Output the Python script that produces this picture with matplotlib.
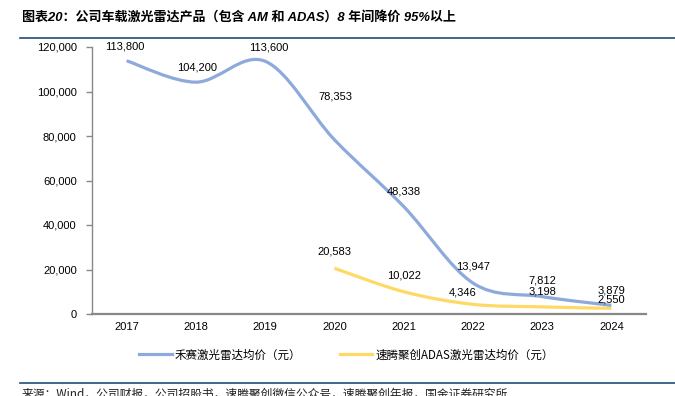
import matplotlib
matplotlib.use("Agg")
import matplotlib.pyplot as plt
from matplotlib.path import Path
from matplotlib.patches import PathPatch
from matplotlib.lines import Line2D
import numpy as np

plt.rcParams['font.family'] = ['Liberation Sans', 'Noto Sans CJK SC', 'DejaVu Sans']

# ---- data ----
years = ['2017', '2018', '2019', '2020', '2021', '2022', '2023', '2024']
hesai = [113800, 104200, 113600, 78353, 48338, 13947, 7812, 3879]
robosense_years = ['2020', '2021', '2022', '2023', '2024']
robosense = [20583, 10022, 4346, 3198, 2550]
series_names = ['禾赛激光雷达均价（元）', '速腾聚创ADAS激光雷达均价（元）']
yticks = [0, 20000, 40000, 60000, 80000, 100000, 120000]
title = '图表20：公司车载激光雷达产品（包含 AM 和 ADAS）8 年间降价 95%以上'
source = '来源：Wind，公司财报，公司招股书，速腾聚创微信公众号，速腾聚创年报，国金证券研究所'

# ---- styles ----
blue = '#8EA9DB'
yellow = '#FFD966'
dark = '#1F4E79'
# label offsets in pixels (dx, dy above point)
hesai_off = [(-2, 14), (1, 15), (4, 14), (1, 43), (0, 15), (0, 16), (0, 16), (0, 15)]
robo_off = [(0, 17), (0, 16), (-10, 12), (0, 15), (0, 9)]

W, H = 675, 396
fig = plt.figure(figsize=(W / 100, H / 100), dpi=100)
ax = fig.add_axes([92 / W, 1 - 314 / H, (646 - 92) / W, (314 - 47) / H])


def smooth_path(xs, ys):
    xs = np.asarray(xs, float)
    ys = np.asarray(ys, float)
    pts = np.column_stack([xs, ys])
    n = len(pts)
    verts = [pts[0]]
    codes = [Path.MOVETO]
    for i in range(n - 1):
        p0 = pts[i - 1] if i > 0 else pts[i]
        p1 = pts[i]
        p2 = pts[i + 1]
        p3 = pts[i + 2] if i + 2 < n else pts[i + 1]
        c1 = p1 + (p2 - p0) / 6.0
        c2 = p2 - (p3 - p1) / 6.0
        verts += [c1, c2, p2]
        codes += [Path.CURVE4] * 3
    return Path(verts, codes)


xh = [years.index(y) for y in years]
xr = [years.index(y) for y in robosense_years]

ax.add_patch(PathPatch(smooth_path(xh, hesai), fill=False, edgecolor=blue, lw=2.3,
                       capstyle='butt', zorder=3))
ax.add_patch(PathPatch(smooth_path(xr, robosense), fill=False, edgecolor=yellow, lw=2.3,
                       capstyle='butt', zorder=2))

for x, v, (dx, dy) in zip(xh, hesai, hesai_off):
    ax.annotate(f'{v:,}', (x, v), xytext=(dx * 0.72, dy * 0.72), textcoords='offset points',
                ha='center', va='center', fontsize=8, color='#000000', zorder=5)
for x, v, (dx, dy) in zip(xr, robosense, robo_off):
    ax.annotate(f'{v:,}', (x, v), xytext=(dx * 0.72, dy * 0.72), textcoords='offset points',
                ha='center', va='center', fontsize=8, color='#000000', zorder=5)

ax.set_xlim(-0.5, len(years) - 0.5)
ax.set_ylim(0, 120000)
ax.set_xticks(range(len(years)))
ax.set_xticklabels(years)
ax.set_yticks(yticks)
ax.set_yticklabels([f'{t:,}' for t in yticks])
ax.tick_params(axis='x', length=0, pad=6, labelsize=8)
ax.tick_params(axis='y', length=4, width=1, color='#888888', pad=7, labelsize=8)
for s in ['top', 'right']:
    ax.spines[s].set_visible(False)
ax.spines['left'].set_color('#888888')
ax.spines['bottom'].set_color('#888888')
ax.spines['left'].set_linewidth(1.0)
ax.spines['bottom'].set_linewidth(1.6)

handles = [Line2D([], [], color=blue, lw=2.3), Line2D([], [], color=yellow, lw=2.3)]
fig.legend(handles, series_names, loc='center', bbox_to_anchor=(346.5 / W, 1 - 355 / H),
           ncol=2, frameon=False, handlelength=2.8, handletextpad=0.3, columnspacing=3.3,
           prop={'family': ['Noto Sans CJK SC', 'DejaVu Sans'], 'size': 8.3})

fig.text(22 / W, 1 - 18 / H, title, ha='left', va='center', fontsize=9.4, fontweight='bold',
         style='italic', color='#000000')
fig.add_artist(Line2D([20 / W, 1.0], [1 - 38 / H, 1 - 38 / H], color=dark, lw=1.2,
                      transform=fig.transFigure))
fig.add_artist(Line2D([20 / W, 1.0], [1 - 383 / H, 1 - 383 / H], color=dark, lw=1.2,
                      transform=fig.transFigure))
fig.text(22 / W, 1 - 394 / H, source, ha='left', va='center', fontsize=8.5, color='#222222',
         family=['Noto Sans CJK SC', 'DejaVu Sans'])

fig.savefig('out.png', dpi=100)
